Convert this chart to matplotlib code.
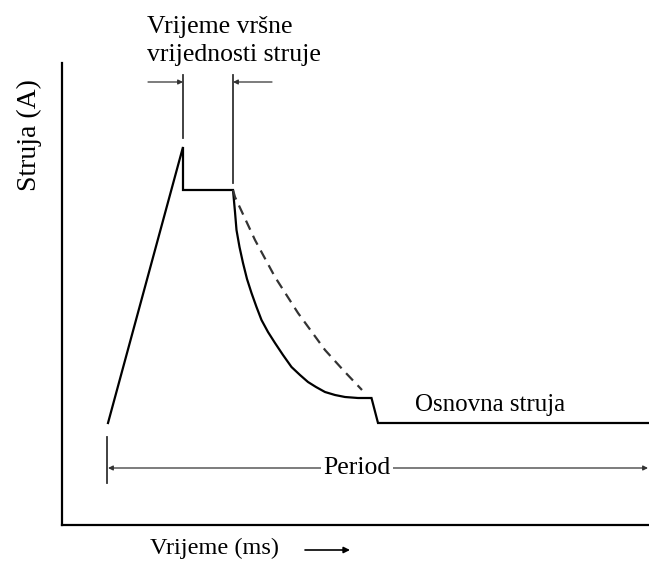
import matplotlib.pyplot as plt

# pulse current waveform (time in ms, current in A, arbitrary scale)
pulse_t = [4.6, 12.1, 12.1, 17.1, 17.3, 17.45, 17.75, 18.1, 18.5, 18.95, 19.45, 19.95, 20.6,
           21.3, 22.1, 22.95, 23.8, 24.6, 25.4, 26.3, 27.3, 28.3, 29.6, 30.95, 31.6, 58.7]
pulse_i = [10.2, 37.8, 33.5, 33.5, 31.3, 29.5, 27.8, 26.2, 24.6, 23.2, 21.8, 20.5, 19.3,
           18.2, 17.0, 15.8, 15.0, 14.3, 13.8, 13.3, 13.0, 12.8, 12.7, 12.7, 10.2, 10.2]

# alternative (slower) decay, dashed
alt_t = [17.1, 17.3, 19.3, 21.3, 23.6, 26.3, 28.2, 30.0]
alt_i = [33.5, 32.8, 28.5, 24.8, 21.2, 17.5, 15.4, 13.5]

peak_start = 12.1
peak_end = 17.1
period_start = 4.5
period_end = 58.6

plt.rcParams['font.family'] = ['Liberation Serif', 'DejaVu Serif']

fig = plt.figure(figsize=(6.49, 5.62), dpi=100)
ax = fig.add_axes([62 / 649, 37 / 562, 587 / 649, 462 / 562])
ax.set_xlim(0, 58.7)
ax.set_ylim(0, 46.2)
for side in ['top', 'right']:
    ax.spines[side].set_visible(False)
for side in ['left', 'bottom']:
    ax.spines[side].set_linewidth(1.6)
ax.set_xticks([])
ax.set_yticks([])

ax.plot(pulse_t, pulse_i, color='black', lw=1.6, solid_joinstyle='miter', clip_on=False)
ax.plot(alt_t, alt_i, color='#333333', lw=1.6, dashes=(4.5, 3))

# peak time marker
ax.plot([peak_start, peak_start], [38.7, 45.0], color='#333333', lw=1.3)
ax.plot([peak_end, peak_end], [34.2, 45.0], color='#333333', lw=1.3)
ax.annotate('', xy=(peak_start, 44.3), xytext=(8.6, 44.3),
            arrowprops=dict(arrowstyle='-|>', color='#333333', lw=0.9, mutation_scale=7,
                            shrinkA=0, shrinkB=0))
ax.annotate('', xy=(peak_end, 44.3), xytext=(21.0, 44.3),
            arrowprops=dict(arrowstyle='-|>', color='#333333', lw=0.9, mutation_scale=7,
                            shrinkA=0, shrinkB=0))
ax.text(8.5, 48.4, 'Vrijeme vršne\nvrijednosti struje', ha='left', va='center',
        multialignment='left', fontsize=18.5, linespacing=1.3, clip_on=False)

ax.text(42.8, 12.0, 'Osnovna struja', ha='center', va='center', fontsize=18)

# period marker
ax.plot([period_start, period_start], [4.2, 8.8], color='#333333', lw=1.3)
ax.annotate('', xy=(period_start + 0.1, 5.7), xytext=(period_end, 5.7),
            arrowprops=dict(arrowstyle='<|-|>', color='#333333', lw=0.9, mutation_scale=7,
                            shrinkA=0, shrinkB=0), annotation_clip=False)
ax.text(29.5, 5.7, 'Period', ha='center', va='center', fontsize=18.5,
        bbox=dict(facecolor='white', edgecolor='none', pad=2))

# axis labels
ax.text(-3.3, 39.0, 'Struja (A)', rotation=90, ha='center', va='center', fontsize=20, clip_on=False)
ax.text(15.3, -2.3, 'Vrijeme (ms)', ha='center', va='center', fontsize=17.5, clip_on=False)
ax.annotate('', xy=(28.8, -2.5), xytext=(24.3, -2.5),
            arrowprops=dict(arrowstyle='-|>', color='black', lw=1.2, mutation_scale=9,
                            shrinkA=0, shrinkB=0), annotation_clip=False)

fig.savefig('out.png', dpi=100)
